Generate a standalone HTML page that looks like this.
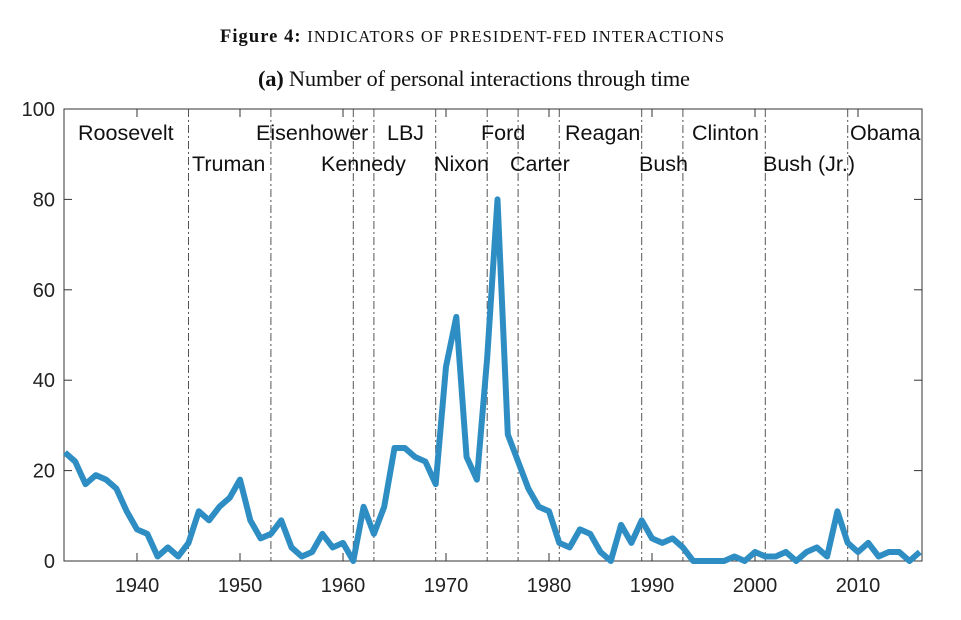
<!DOCTYPE html>
<html><head><meta charset="utf-8"><style>
body{margin:0;background:#fff;width:961px;height:620px;overflow:hidden}
svg{display:block}
.t{font-family:"Liberation Serif",serif;fill:#111}
.l{font-family:"Liberation Sans",sans-serif;font-size:21.5px;fill:#111}
.k{font-family:"Liberation Sans",sans-serif;font-size:20px;fill:#222}
</style></head><body>
<svg id="c" width="961" height="620">
<text class="t" x="220" y="42" font-size="18.5" textLength="504" lengthAdjust="spacing"><tspan font-weight="bold">Figure 4:</tspan> <tspan font-size="16.5">INDICATORS OF PRESIDENT-FED INTERACTIONS</tspan></text>
<text class="t" x="258" y="86" font-size="22.5" textLength="432" lengthAdjust="spacing"><tspan font-weight="bold">(a)</tspan> Number of personal interactions through time</text>
</svg>
<script>
const years=[];for(let y=1933;y<=2016;y++)years.push(y);
const values=[24,22,17,19,18,16,11,7,6,1,3,1,4,11,9,12,14,18,9,5,6,9,3,1,2,6,3,4,0,12,6,12,25,25,23,22,17,43,54,23,18,45,80,28,22,16,12,11,4,3,7,6,2,0,8,4,9,5,4,5,3,0,0,0,0,1,0,2,1,1,2,0,2,3,1,11,4,2,4,1,2,2,0,2];
const termStarts=[1945,1953,1961,1963,1969,1974,1977,1981,1989,1993,2001,2009];
const presidents=["Roosevelt","Truman","Eisenhower","Kennedy","LBJ","Nixon","Ford","Carter","Reagan","Bush","Clinton","Bush (Jr.)","Obama"];
const presX=[78,192,256,321,387,434,481,510,565,639,692,763,850];
const yTicks=[0,20,40,60,80,100];
const xTicks=[1940,1950,1960,1970,1980,1990,2000,2010];
const L=64,R=922,T=109,B=561;
const xs=y=>137+(y-1940)*10.3;
const ys=v=>B-(v/100)*(B-T);
const svg=document.getElementById('c');const NS='http://www.w3.org/2000/svg';
function mk(tag,a){const e=document.createElementNS(NS,tag);for(const k in a)e.setAttribute(k,a[k]);svg.appendChild(e);return e;}
termStarts.forEach(y=>{const e=mk('line',{x1:xs(y),x2:xs(y),y1:T,y2:B,stroke:'#555','stroke-width':1,'stroke-dasharray':'8,3,2,3'});

});
const fr=mk('rect',{x:L,y:T,width:R-L,height:B-T,fill:'none',stroke:'#333','stroke-width':1});


yTicks.forEach(v=>{mk('line',{x1:L,x2:L+8,y1:ys(v),y2:ys(v),stroke:'#333'});mk('line',{x1:R-8,x2:R,y1:ys(v),y2:ys(v),stroke:'#333'});
const t=mk('text',{x:L-9,y:ys(v)+7,'text-anchor':'end',class:'k'});t.textContent=v;

});
xTicks.forEach(y=>{mk('line',{x1:xs(y),x2:xs(y),y1:B,y2:B-8,stroke:'#333'});mk('line',{x1:xs(y),x2:xs(y),y1:T,y2:T+8,stroke:'#333'});
const t=mk('text',{x:xs(y),y:592,'text-anchor':'middle',class:'k'});t.textContent=y;

});
presidents.forEach((p,i)=>{const t=mk('text',{x:presX[i],y:i%2?171:140,class:'l'});t.textContent=p;

});
const pl=mk('polyline',{points:years.map((y,i)=>xs(y)+','+ys(values[i])).join(' '),fill:'none',stroke:'#2e8ec4','stroke-width':6,'stroke-linejoin':'round'});


</script>
</body></html>
